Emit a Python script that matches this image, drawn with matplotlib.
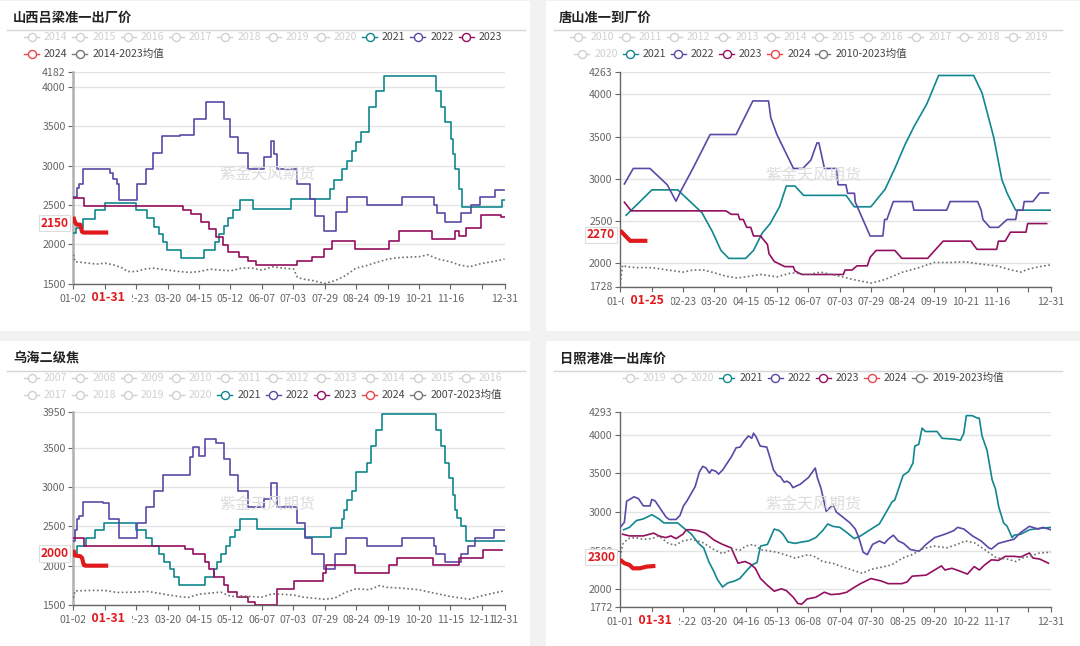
import matplotlib
matplotlib.use('Agg')
import matplotlib.pyplot as plt
from matplotlib.lines import Line2D
from matplotlib.patches import Rectangle

plt.rcParams['font.family'] = ['Noto Sans CJK SC', 'DejaVu Sans']

# ---------------- data ----------------
# Panel 1: 山西吕梁准一出厂价 (step series: index of trading day, price)
p1_2021_x = [0, 1.8, 5.3, 12.2, 18.2, 36, 42, 46, 49.3, 51.2, 53.8, 61.7, 74.6, 80.9, 83.5, 86.4, 88.4, 91.4, 95.3, 103.2, 124.6, 146.8, 149.4, 154.2, 157, 159.9, 161.8, 164.7, 169.5, 173.3, 178.1, 207.8, 210.6, 212.9, 216.3, 217.7, 218.7, 221.1, 222.9, 245.5, 247]
p1_2021_y = [2150, 2210, 2320, 2430, 2530, 2430, 2330, 2220, 2130, 2030, 1930, 1830, 1930, 2030, 2130, 2230, 2330, 2440, 2560, 2450, 2580, 2700, 2820, 2950, 3060, 3180, 3300, 3420, 3740, 3940, 4140, 3940, 3740, 3550, 3340, 3140, 2950, 2700, 2480, 2560, 2560]
p1_2022_x = [0.5, 1.9, 3.4, 5.7, 19.2, 21, 23, 24.9, 26, 36.4, 41.8, 45.8, 50.8, 61.3, 69.3, 76, 86.6, 90, 94.3, 100, 109.5, 113.4, 115, 116.8, 128, 135.5, 138.3, 143.8, 150.7, 156.7, 168.5, 188.3, 206.7, 208.1, 213, 222, 227.9, 232.8, 241.7, 246.7]
p1_2022_y = [2600, 2710, 2760, 2960, 2960, 2900, 2830, 2770, 2560, 2760, 2960, 3160, 3370, 3385, 3590, 3800, 3590, 3360, 3160, 2960, 3110, 3310, 3150, 2960, 2760, 2570, 2365, 2165, 2415, 2600, 2500, 2600, 2500, 2400, 2290, 2400, 2500, 2600, 2690, 2690]
p1_2023_x = [0, 5.9, 62.7, 67.6, 73, 77.5, 81.5, 85.5, 88.4, 94.7, 100.3, 104.6, 128, 136.9, 143.8, 148.2, 161.6, 181, 186.3, 205.5, 218.6, 221, 224.9, 233.8, 245, 247]
p1_2023_y = [2590, 2490, 2440, 2390, 2290, 2195, 2090, 1990, 1900, 1845, 1790, 1740, 1790, 1845, 1940, 2040, 1940, 2040, 2165, 2070, 2165, 2110, 2210, 2370, 2350, 2350]
p1_2024_x = [0, 1, 2, 4, 5, 6, 20]
p1_2024_y = [2350, 2280, 2250, 2250, 2160, 2150, 2150]
p1_avg_x = [0, 1, 5.3, 13.3, 18.2, 23.1, 28.1, 31.1, 36, 40.9, 45.9, 54.2, 60.7, 66.7, 72.2, 78.5, 84.5, 90.2, 96.3, 102.3, 108.2, 114.1, 120.1, 126.2, 128.4, 131.9, 137.9, 144, 149.7, 155.7, 162, 167.5, 173.5, 180.2, 187.3, 198, 203.1, 209.1, 216, 220.9, 226.9, 233.8, 240.7, 247]
p1_avg_y = [1870, 1780, 1770, 1750, 1762, 1740, 1700, 1656, 1656, 1686, 1699, 1673, 1656, 1644, 1656, 1686, 1673, 1665, 1699, 1699, 1673, 1716, 1699, 1686, 1580, 1559, 1538, 1504, 1538, 1601, 1699, 1728, 1771, 1813, 1834, 1843, 1868, 1813, 1779, 1741, 1716, 1758, 1783, 1813]
p1_xlabels = ['01-02', '', '02-23', '03-20', '04-15', '05-12', '06-07', '07-03', '07-29', '08-24', '09-19', '10-21', '11-16', '', '12-31']
p1_yticks = [1500, 2000, 2500, 3000, 3500, 4000, 4182]

# Panel 2: 唐山准一到厂价 (line series)
p2_2021_x = [3.4, 18.2, 33, 46.9, 52.8, 57.8, 62.3, 72, 76.5, 81.5, 86, 91.4, 95.3, 100.3, 105.2, 129.6, 134.3, 143.8, 152, 157.8, 163.6, 168.4, 176, 182.7, 202.8, 207.6, 214.3, 219, 222, 226.9, 247]
p2_2021_y = [2570, 2870, 2870, 2600, 2380, 2155, 2060, 2060, 2155, 2360, 2470, 2670, 2915, 2915, 2805, 2805, 2670, 2670, 2877, 3135, 3413, 3611, 3889, 4222, 4222, 4016, 3492, 2990, 2830, 2630, 2630]
p2_2022_x = [2.4, 7.5, 17.1, 27, 32, 35.3, 42, 51.6, 66.5, 76.1, 85.1, 86.4, 89.9, 99.4, 104.8, 109.4, 112.9, 114, 117.2, 124, 125, 129.5, 130.5, 134.4, 134.9, 143.4, 150.7, 151.7, 153, 156.7, 167.5, 168.5, 187.3, 189.3, 205.1, 207.1, 208.1, 212.1, 217, 222, 226.9, 227.9, 231, 231.8, 236.8, 240.7, 245.7]
p2_2022_y = [2940, 3123, 3123, 2930, 2736, 2877, 3135, 3524, 3524, 3921, 3921, 3722, 3524, 3123, 3123, 3222, 3425, 3425, 3123, 3123, 2930, 2930, 2830, 2830, 2724, 2325, 2325, 2520, 2520, 2732, 2732, 2630, 2630, 2732, 2732, 2630, 2520, 2427, 2427, 2520, 2520, 2630, 2630, 2732, 2732, 2833, 2833]
p2_2023_x = [2.4, 6.3, 60.7, 63.7, 67.6, 68.6, 70.6, 72.6, 74.9, 76.5, 80.5, 84.5, 85.4, 88.4, 94.4, 99.3, 100.3, 104.2, 128, 129, 133, 135.9, 141.8, 143.4, 146.8, 157.6, 161.6, 176.4, 181.4, 185.3, 201.2, 204.7, 216, 217, 220.9, 223.9, 232.8, 233.8, 244.7]
p2_2023_y = [2724, 2622, 2622, 2581, 2581, 2520, 2520, 2427, 2427, 2325, 2325, 2224, 2114, 2024, 1963, 1963, 1911, 1870, 1870, 1923, 1923, 1972, 1972, 2073, 2154, 2154, 2061, 2061, 2175, 2264, 2264, 2167, 2167, 2264, 2264, 2370, 2370, 2472, 2472]
p2_2024_x = [0, 5.7, 15.6]
p2_2024_y = [2390, 2268, 2268]
p2_avg_x = [0, 1.4, 3.4, 9.3, 18.2, 27.1, 36, 41.9, 47.9, 54, 60.7, 66.7, 72, 80.5, 90, 98.3, 108, 115.1, 126, 133.9, 144, 151.7, 162, 171.5, 180, 189.3, 198, 207.1, 216, 222.9, 229.8, 233.8, 240.7, 247.3]
p2_avg_y = [1760, 1980, 1963, 1951, 1951, 1923, 1898, 1923, 1923, 1890, 1850, 1829, 1842, 1870, 1842, 1890, 1870, 1898, 1850, 1809, 1768, 1809, 1898, 1951, 2012, 2012, 2020, 1992, 1972, 1931, 1898, 1931, 1963, 1984]
p2_xlabels = ['01-03', '', '02-23', '03-20', '04-15', '05-12', '06-07', '07-03', '07-29', '08-24', '09-19', '10-21', '11-16', '', '12-31']
p2_yticks = [1728, 2000, 2500, 3000, 3500, 4000, 4263]

# Panel 3: 乌海二级焦 (step series)
p3_2021_x = [0, 2.4, 7.3, 12.3, 17.8, 36, 41.9, 44.9, 48.9, 51.8, 55.2, 57.5, 60.7, 75.6, 80.5, 82.5, 84.5, 87.4, 90, 92.4, 95.3, 105.2, 132.9, 147.4, 153.7, 155.1, 157, 159.9, 161.8, 168.5, 170.4, 173.3, 177.1, 207.8, 210.6, 212.9, 215.4, 217.4, 218.7, 220, 222, 224.9, 247]
p3_2021_y = [2125, 2254, 2349, 2448, 2547, 2448, 2349, 2254, 2147, 2047, 1953, 1860, 1759, 1858, 1953, 2047, 2147, 2254, 2362, 2448, 2590, 2470, 2362, 2478, 2590, 2706, 2829, 2947, 3193, 3311, 3518, 3719, 3925, 3719, 3518, 3311, 3114, 2903, 2706, 2600, 2500, 2310, 2310]
p3_2022_x = [0, 1, 1.9, 3.4, 5.4, 17.2, 20.7, 26.1, 36.6, 41.8, 46, 51.4, 67, 68.6, 71.8, 75.6, 82, 86.6, 89.6, 94.2, 99.9, 109.5, 113, 116.8, 128.3, 133, 137, 143.8, 150, 156, 168, 188, 206.5, 207.5, 213, 222, 226, 230, 241, 247]
p3_2022_y = [2319, 2450, 2588, 2632, 2807, 2794, 2588, 2349, 2547, 2741, 2947, 3149, 3377, 3509, 3399, 3610, 3561, 3355, 3149, 2947, 2741, 2851, 3048, 2741, 2544, 2349, 2150, 1953, 2150, 2349, 2254, 2349, 2254, 2150, 2053, 2150, 2254, 2349, 2448, 2448]
p3_2023_x = [0, 6.3, 63.7, 68.6, 75.6, 77.5, 80.5, 86.4, 88.8, 94, 100.3, 104.2, 116.7, 126.4, 142.8, 144.8, 161.2, 181, 185.3, 206.1, 221, 234.8, 245.7]
p3_2023_y = [2349, 2254, 2211, 2147, 2047, 1953, 1858, 1759, 1660, 1599, 1543, 1500, 1703, 1802, 1910, 2004, 1901, 2004, 2103, 2004, 2103, 2198, 2198]
p3_2024_x = [0, 1, 4, 5, 6, 7, 20]
p3_2024_y = [2200, 2130, 2120, 2100, 2010, 2000, 2000]
p3_avg_x = [0, 1, 3.4, 9.3, 18.2, 25.1, 36, 42.9, 54.2, 60.7, 65.7, 72.2, 78.5, 84.5, 90.2, 96.3, 107.8, 114.1, 125.6, 131.9, 143.8, 149.7, 155.7, 162, 169.5, 175.4, 179.8, 187.3, 197.8, 205.1, 216, 222.9, 226.9, 233.8, 240.7, 247]
p3_avg_y = [1590, 1680, 1681, 1685, 1685, 1659, 1664, 1672, 1629, 1608, 1595, 1638, 1651, 1664, 1608, 1616, 1599, 1642, 1629, 1599, 1573, 1586, 1659, 1707, 1694, 1746, 1724, 1716, 1694, 1659, 1608, 1586, 1573, 1616, 1651, 1681]
p3_xlabels = ['01-02', '', '02-23', '03-20', '04-15', '05-12', '06-07', '07-03', '07-29', '08-24', '09-19', '10-20', '11-15', '12-11', '12-31']
p3_yticks = [1500, 2000, 2500, 3000, 3500, 3950]

# Panel 4: 日照港准一出库价 (line series)
p4_2021_x = [2, 5.3, 9.3, 13.3, 18.2, 22.2, 25.1, 33, 36, 40.9, 44.9, 47.9, 50.8, 53.8, 55.8, 58.7, 61.7, 65.7, 68.6, 72, 75.6, 78.5, 80.5, 84.5, 88.4, 91.4, 93.4, 96.3, 100.3, 104.2, 108, 112.2, 116.1, 119.1, 122, 126, 130, 134.3, 137.9, 144, 148.7, 152.1, 156, 157.5, 162.3, 165.5, 168, 169, 171.3, 173.2, 175.1, 181.8, 184.7, 192.3, 195.2, 197.1, 198.6, 201.9, 204.8, 206, 207.6, 210.5, 213.4, 215.3, 217.2, 220, 222, 224.9, 226, 229.8, 234.8, 240.7, 247.3]
p4_2021_y = [2770, 2801, 2889, 2911, 2965, 2911, 2858, 2858, 2801, 2712, 2593, 2535, 2358, 2226, 2124, 2027, 2080, 2106, 2137, 2226, 2314, 2345, 2558, 2580, 2779, 2757, 2712, 2611, 2593, 2611, 2624, 2668, 2757, 2845, 2814, 2801, 2735, 2655, 2690, 2779, 2845, 2978, 3132, 3154, 3474, 3526, 3636, 3855, 3877, 4088, 4044, 4044, 3956, 3943, 3930, 4018, 4250, 4250, 4219, 4219, 3987, 3798, 3417, 3298, 3066, 2858, 2814, 2668, 2700, 2712, 2770, 2788, 2801]
p4_2022_x = [0, 2.4, 3.7, 7.9, 10.4, 13.3, 17.1, 18.1, 20, 26.3, 28.2, 32, 34.3, 36.3, 38.2, 43, 45.4, 47.4, 49.3, 51.2, 52.5, 55, 56.4, 58.9, 60.8, 64, 66.5, 68.8, 71.1, 73.6, 75.5, 76.5, 78, 80.3, 84.1, 86, 87.9, 90.2, 91.8, 94.1, 95.6, 97.5, 99.1, 103.3, 108, 111.9, 113.2, 115.2, 118.2, 120.1, 122.4, 124, 126, 131.9, 134.9, 136.9, 139.4, 141.8, 144.8, 148.7, 151.7, 153.7, 156.7, 159.6, 162.6, 166.5, 171.5, 175.5, 180.4, 186.3, 191.3, 193.6, 197.2, 202.1, 207.1, 211.5, 213, 217, 222, 225.9, 229.8, 234.8, 239.8, 242.7, 247]
p4_2022_y = [2801, 2867, 3140, 3197, 3175, 3079, 3079, 3162, 3145, 2934, 2903, 2903, 2956, 3079, 3140, 3329, 3518, 3592, 3570, 3504, 3548, 3526, 3491, 3548, 3614, 3724, 3833, 3842, 3921, 3987, 3956, 4022, 3974, 3855, 3842, 3702, 3548, 3474, 3460, 3386, 3400, 3373, 3316, 3360, 3447, 3570, 3439, 3307, 3009, 3053, 3088, 3000, 2965, 2858, 2779, 2668, 2478, 2447, 2580, 2624, 2593, 2646, 2699, 2624, 2593, 2513, 2491, 2580, 2668, 2712, 2757, 2801, 2779, 2690, 2624, 2535, 2520, 2593, 2624, 2646, 2735, 2814, 2779, 2801, 2770]
p4_2023_x = [1.4, 5.3, 13.3, 19.2, 22.2, 26.1, 29.1, 32, 36, 38, 40.9, 44.9, 48.9, 53.8, 58.7, 63.7, 67.6, 71.6, 74.6, 77.5, 80.5, 84.5, 88.4, 92.4, 95.3, 99.3, 101.9, 104.2, 107.2, 112.2, 117.1, 121, 126, 130, 133.9, 137.9, 143.8, 149.7, 153.7, 161.6, 164.6, 167.5, 175.5, 180.4, 184.3, 186.3, 190.3, 194.2, 199.2, 203.1, 206.1, 209.1, 213, 217, 221, 225.9, 229.8, 234.8, 236.8, 240.7, 245.7]
p4_2023_y = [2712, 2690, 2690, 2726, 2690, 2668, 2690, 2655, 2712, 2770, 2770, 2757, 2726, 2637, 2580, 2535, 2336, 2358, 2327, 2270, 2137, 2049, 1973, 2004, 1982, 1894, 1814, 1805, 1872, 1894, 1960, 1929, 1938, 1960, 2018, 2071, 2137, 2106, 2071, 2071, 2093, 2168, 2181, 2248, 2301, 2248, 2270, 2239, 2195, 2292, 2248, 2314, 2380, 2372, 2425, 2425, 2416, 2469, 2403, 2390, 2336]
p4_2024_x = [0, 2.4, 5.3, 7.3, 11.3, 15.2, 20.2]
p4_2024_y = [2380, 2336, 2314, 2270, 2270, 2292, 2301]
p4_avg_x = [0, 1.4, 4.4, 8.3, 13.3, 18.2, 22.2, 27.1, 31.1, 36, 40.9, 46.9, 53.8, 58.7, 64.7, 68.6, 72, 76.5, 80.5, 90, 96.3, 100.3, 108, 112.2, 116.1, 122, 126, 131.9, 138.9, 144, 149.7, 155.7, 162, 167.5, 173.5, 180, 187.3, 193.3, 198, 203.1, 209.1, 216, 222, 226.9, 230.8, 234.8, 240.7, 247.3]
p4_avg_y = [2420, 2580, 2655, 2668, 2646, 2655, 2690, 2602, 2566, 2624, 2646, 2611, 2513, 2460, 2522, 2504, 2558, 2580, 2513, 2478, 2434, 2403, 2447, 2416, 2358, 2336, 2301, 2257, 2204, 2257, 2283, 2314, 2403, 2447, 2522, 2558, 2535, 2580, 2624, 2602, 2513, 2403, 2390, 2358, 2403, 2425, 2469, 2478]
p4_xlabels = ['01-01', '', '02-22', '03-20', '04-16', '05-13', '06-08', '07-04', '07-30', '08-25', '09-20', '10-22', '11-17', '', '12-31']
p4_yticks = [1772, 2000, 2500, 3000, 3500, 4000, 4293]

titles = ['山西吕梁准一出厂价', '唐山准一到厂价', '乌海二级焦', '日照港准一出库价']
red_dates = ['01-31', '01-25', '01-31', '01-31']

# ---------------- style / layout ----------------
W, H = 1080, 646
C21, C22, C23, C24, CAVG = '#10878e', '#5b48a6', '#930f5f', '#e0191d', '#6f6f6f'
INACT = '#d0d0d0'
N_LAST = 247
TICK_IDX = [0, 18, 36, 54, 72, 90, 108, 126, 144, 162, 180, 198, 216, 234, 247]

fig = plt.figure(figsize=(W / 100, H / 100), dpi=100)
fig.patch.set_facecolor('#f2f2f2')


def fx(px):
    return px / W


def fy(py):
    return 1 - py / H


def card(x0, y0, x1, y1):
    fig.patches.append(Rectangle((fx(x0), fy(y1)), (x1 - x0) / W, (y1 - y0) / H,
                                 transform=fig.transFigure, facecolor='white',
                                 edgecolor='none', zorder=-5))


def hline(x0, x1, y):
    fig.add_artist(Line2D([fx(x0), fx(x1)], [fy(y), fy(y)], color='#d6d6d6', lw=1))


def legend_item(x, y, label, color, active):
    col = color if active else INACT
    fig.add_artist(Line2D([fx(x), fx(x + 15)], [fy(y), fy(y)], color=col, lw=1))
    fig.add_artist(Line2D([fx(x + 7.5)], [fy(y)], marker='o', ms=5.8, mfc='white',
                          mec=col, mew=1, lw=0))
    fig.text(fx(x + 20), fy(y), label, color='#444' if active else INACT,
             fontsize=7.6, va='center', ha='left')


def legend_rows(x0, rows, spacing=48.3):
    for y, items in rows:
        for k, (label, color, active) in enumerate(items):
            legend_item(x0 + k * spacing, y, label, color, active)


def yr(label):
    return (label, INACT, False)


def panel(box, ylim, yticks, xlabels, series, step, red_date, latest_y, axis_col, axis_lw, wm_xy):
    x0, x1, y0, y1 = box
    ax = fig.add_axes([fx(x0), fy(y1), (x1 - x0) / W, (y1 - y0) / H])
    ax.set_facecolor('none')
    ax.set_xlim(0, N_LAST)
    ax.set_ylim(*ylim)
    ax.set_yticks(yticks)
    ax.set_yticklabels([str(v) for v in yticks])
    ax.set_xticks(TICK_IDX)
    ax.set_xticklabels(xlabels)
    ax.tick_params(axis='both', labelsize=7.6, colors='#666', length=3.5, width=0.8)
    ax.tick_params(axis='x', pad=4)
    ax.tick_params(axis='y', pad=2)
    ax.grid(axis='y', color='#e4e4e4', lw=1)
    ax.set_axisbelow(True)
    for s in ['top', 'right']:
        ax.spines[s].set_visible(False)
    ax.spines['left'].set_color(axis_col)
    ax.spines['left'].set_linewidth(axis_lw)
    ax.spines['bottom'].set_color('#666')
    ax.spines['bottom'].set_linewidth(1)

    ds = 'steps-post' if step else 'default'
    (x21, y21), (x22, y22), (x23, y23), (x24, y24), (xa, ya) = series
    ax.plot(x21, y21, color=C21, lw=1.2, drawstyle=ds, zorder=3)
    ax.plot(x22, y22, color=C22, lw=1.2, drawstyle=ds, zorder=3)
    ax.plot(x23, y23, color=C23, lw=1.2, drawstyle=ds, zorder=3)
    ax.plot(xa, ya, color=CAVG, lw=1.2, ls=(0, (1, 1.5)), zorder=3)
    ax.plot(x24, y24, color=C24, lw=3.0, zorder=4, solid_capstyle='butt')

    # watermark
    fig.text(fx(wm_xy[0]), fy(wm_xy[1]), '紫金天风期货', fontsize=11.5, color='#dcdcdc',
             ha='center', va='center', zorder=1)

    # latest value label on the y axis
    ax.annotate(f'{round(y24[-1], -1):.0f}', xy=(0, latest_y), xycoords=('axes fraction', 'data'),
                xytext=(-5, 0), textcoords='offset pixels', ha='right', va='center',
                fontsize=8.6, fontweight='bold', color=C24, zorder=6,
                bbox=dict(boxstyle='square,pad=0.15', fc='white', ec='#dddddd', lw=0.8),
                annotation_clip=False)
    # current date label on the x axis
    ax.annotate('  ' + red_date + '  ', xy=(x24[-1], 0), xycoords=('data', 'axes fraction'),
                xytext=(0, -7), textcoords='offset pixels', ha='center', va='top',
                fontsize=8.8, fontweight='bold', color=C24, zorder=6,
                bbox=dict(boxstyle='square,pad=0.1', fc='white', ec='none'),
                annotation_clip=False)
    return ax


# cards
card(0, 1, 530, 331)
card(546, 1, 1080, 331)
card(0, 341, 530, 646)
card(546, 341, 1080, 646)

# titles and separator lines
fig.text(fx(13), fy(18), titles[0], fontsize=9.5, fontweight='bold', color='#222', va='center')
fig.text(fx(559), fy(18), titles[1], fontsize=9.5, fontweight='bold', color='#222', va='center')
fig.text(fx(13), fy(358), titles[2], fontsize=9.5, fontweight='bold', color='#222', va='center')
fig.text(fx(560), fy(358), titles[3], fontsize=9.5, fontweight='bold', color='#222', va='center')
hline(7, 525, 30.3)
hline(554, 1062, 30.3)
hline(7, 525, 370.6)
hline(554, 1062, 370.6)

# legends
legend_rows(24, [
    (37.2, [yr(str(y)) for y in range(2014, 2021)] + [('2021', C21, True), ('2022', C22, True), ('2023', C23, True)]),
    (54.0, [('2024', '#e8474b', True), ('2014-2023均值', '#777', True)]),
])
legend_rows(570.3, [
    (37.2, [yr(str(y)) for y in range(2010, 2020)]),
])
legend_rows(574.4, [
    (54.0, [yr('2020'), ('2021', C21, True), ('2022', C22, True), ('2023', C23, True),
            ('2024', '#e8474b', True), ('2010-2023均值', '#777', True)]),
], spacing=48.2)
legend_rows(24, [
    (378.2, [yr(str(y)) for y in range(2007, 2017)]),
    (394.7, [yr(str(y)) for y in range(2017, 2021)] + [('2021', C21, True), ('2022', C22, True), ('2023', C23, True),
                                                       ('2024', '#e8474b', True), ('2007-2023均值', '#777', True)]),
])
legend_rows(622.6, [
    (378.2, [yr('2019'), yr('2020'), ('2021', C21, True), ('2022', C22, True), ('2023', C23, True),
             ('2024', '#e8474b', True), ('2019-2023均值', '#777', True)]),
])

# panels
panel((73.3, 504.5, 72.3, 283.8), (1500, 4182), p1_yticks, p1_xlabels,
      [(p1_2021_x, p1_2021_y), (p1_2022_x, p1_2022_y), (p1_2023_x, p1_2023_y),
       (p1_2024_x, p1_2024_y), (p1_avg_x, p1_avg_y)],
      True, red_dates[0], 2270, '#b0b0b0', 1.8, (267, 175))
panel((620.2, 1050.7, 72.0, 286.5), (1728, 4263), p2_yticks, p2_xlabels,
      [(p2_2021_x, p2_2021_y), (p2_2022_x, p2_2022_y), (p2_2023_x, p2_2023_y),
       (p2_2024_x, p2_2024_y), (p2_avg_x, p2_avg_y)],
      False, red_dates[1], 2337, '#666', 1.0, (813, 176))
panel((73.3, 504.5, 412.3, 605.0), (1500, 3950), p3_yticks, p3_xlabels,
      [(p3_2021_x, p3_2021_y), (p3_2022_x, p3_2022_y), (p3_2023_x, p3_2023_y),
       (p3_2024_x, p3_2024_y), (p3_avg_x, p3_avg_y)],
      True, red_dates[2], 2155, '#b0b0b0', 1.8, (267, 505))
panel((620.2, 1050.7, 412.3, 606.7), (1772, 4293), p4_yticks, p4_xlabels,
      [(p4_2021_x, p4_2021_y), (p4_2022_x, p4_2022_y), (p4_2023_x, p4_2023_y),
       (p4_2024_x, p4_2024_y), (p4_avg_x, p4_avg_y)],
      False, red_dates[3], 2416, '#666', 1.0, (813, 505))

fig.savefig('out.png', dpi=100, facecolor=fig.get_facecolor())
